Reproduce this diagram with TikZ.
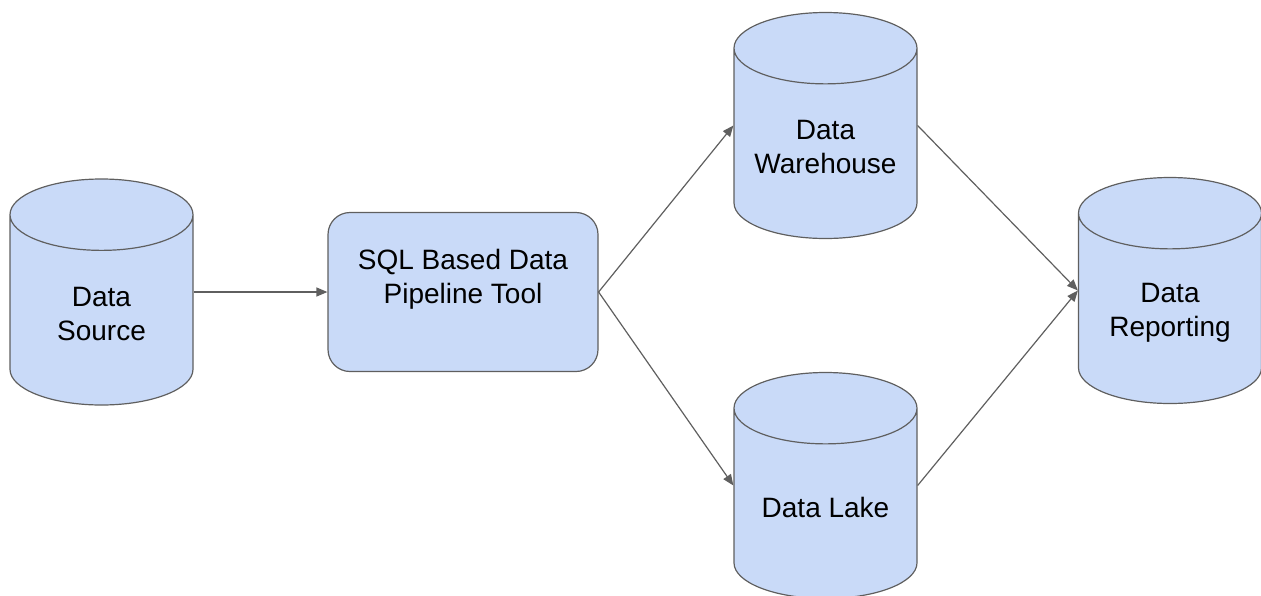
\documentclass[tikz,border=0pt]{standalone}
\usepackage{fontspec}
\setmainfont{Liberation Sans}
\usetikzlibrary{shapes.geometric,arrows.meta}
\definecolor{boxblue}{HTML}{C9DAF8}
\definecolor{edgegray}{HTML}{5F5F5F}

\begin{document}
\begin{tikzpicture}[x=1pt,y=-1pt,
        >={Triangle[length=11pt,width=9pt]},
        db/.style={draw=edgegray, fill=boxblue, line width=1.2pt, cylinder,
            shape border rotate=90, aspect=0.39, inner xsep=91.5pt, inner ysep=0pt,
            minimum height=226pt, anchor=shape center},
        tool/.style={draw=edgegray, fill=boxblue, line width=1.2pt, rectangle,
            rounded corners=22pt, minimum width=270pt, minimum height=159pt},
        txt/.style={align=center, font=\fontsize{28}{34}\selectfont}]
        \useasboundingbox (0,0) rectangle (1261,595);

        % Source and pipeline tool
        \node[db, label={[txt,yshift=14pt]center:Data\\Source}] (src) at (101.5,292) {};
        \node[tool, label={[txt,yshift=13pt]center:SQL Based Data\\Pipeline Tool}] (sql) at (463,292) {};
        \draw[->, edgegray, line width=1.2pt] (src.east |- src.shape center) -- (sql.west);

        % Storage
        \node[db, label={[txt,yshift=14pt]center:Data\\Warehouse}] (wh) at (825.5,125.5) {};
        \node[db, label={[txt,yshift=14pt]center:Data Lake}] (lake) at (825.5,485.5) {};
        \draw[->, edgegray, line width=1.2pt] (sql.east) -- (wh.west |- wh.shape center);
        \draw[->, edgegray, line width=1.2pt] (sql.east) -- (lake.west |- lake.shape center);

        % Reporting
        \node[db, label={[txt,yshift=14pt]center:Data\\Reporting}] (rep) at (1170,290.5) {};
        \draw[->, edgegray, line width=1.2pt] (wh.east |- wh.shape center) -- (rep.west |- rep.shape center);
        \draw[->, edgegray, line width=1.2pt] (lake.east |- lake.shape center) -- (rep.west |- rep.shape center);
    \end{tikzpicture}
\end{document}
